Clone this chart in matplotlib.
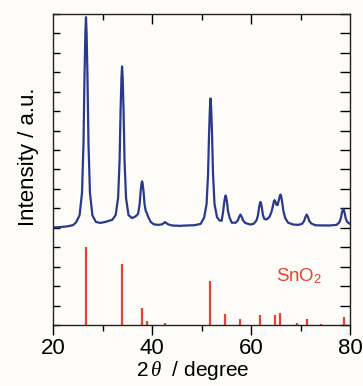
import matplotlib
matplotlib.use('Agg')
import matplotlib.pyplot as plt

plt.rcParams['font.family'] = ['Liberation Sans', 'DejaVu Sans']
plt.rcParams['mathtext.fontset'] = 'custom'
plt.rcParams['mathtext.rm'] = 'Liberation Sans'
plt.rcParams['mathtext.it'] = 'Liberation Serif:italic'

two_theta = [20.0, 21.0, 22.0, 23.0, 24.0, 24.6, 25.3, 25.8, 26.1, 26.3, 26.48, 26.6,
             26.72, 26.9, 27.1, 27.4, 27.9, 28.6, 29.5, 30.5, 31.9, 32.6, 33.1, 33.4,
             33.6, 33.78, 33.9, 34.02, 34.2, 34.4, 34.7, 35.2, 35.9, 36.6, 37.15, 37.45,
             37.65, 37.83, 37.95, 38.07, 38.25, 38.45, 38.7, 38.9, 39.2, 39.7, 40.3, 41.2,
             42.0, 42.6, 43.2, 44.0, 45.5, 47.0, 48.5, 49.8, 50.5, 51.0, 51.3, 51.5,
             51.68, 51.8, 51.92, 52.1, 52.3, 52.6, 53.1, 53.6, 54.05, 54.35, 54.55, 54.73,
             54.85, 54.97, 55.15, 55.35, 55.65, 56.1, 56.9, 57.35, 57.55, 57.85, 58.15, 58.35,
             58.8, 59.8, 60.5, 61.1, 61.4, 61.6, 61.78, 61.9, 62.02, 62.2, 62.4, 62.7,
             63.15, 63.7, 64.1, 64.4, 64.62, 64.75, 64.9, 65.15, 65.35, 65.6, 65.82, 65.95,
             66.08, 66.3, 66.55, 66.9, 67.5, 68.5, 69.5, 70.3, 70.75, 70.95, 71.25, 71.55,
             71.75, 72.2, 73.0, 74.5, 76.0, 77.3, 77.85, 78.15, 78.35, 78.53, 78.65, 78.77,
             78.95, 79.15, 79.45, 80.0]
intensity = [5.02, 5.03, 5.05, 5.08, 5.14, 5.28, 5.64, 6.81, 9.38, 12.8, 15.05, 15.83,
             15.05, 12.8, 9.38, 6.81, 5.64, 5.3, 5.25, 5.3, 5.41, 5.65, 6.54, 8.47,
             11.05, 12.74, 13.3, 12.74, 11.05, 8.47, 6.54, 5.65, 5.5, 5.58, 5.72, 6.2,
             6.84, 7.26, 7.39, 7.26, 6.84, 6.2, 5.85, 5.77, 5.55, 5.3, 5.18, 5.15,
             5.18, 5.29, 5.18, 5.12, 5.1, 5.12, 5.13, 5.2, 5.52, 6.23, 7.78, 9.84,
             11.2, 11.65, 11.2, 9.84, 7.78, 6.23, 5.55, 5.38, 5.36, 5.84, 6.28, 6.56,
             6.66, 6.56, 6.28, 5.84, 5.52, 5.26, 5.26, 5.39, 5.54, 5.68, 5.54, 5.39,
             5.25, 5.17, 5.2, 5.38, 5.65, 6.01, 6.25, 6.33, 6.25, 6.01, 5.65, 5.45,
             5.43, 5.55, 5.8, 6.1, 6.36, 6.42, 6.35, 6.18, 6.17, 6.4, 6.65, 6.71,
             6.64, 6.3, 5.85, 5.5, 5.26, 5.17, 5.15, 5.2, 5.36, 5.53, 5.68, 5.53,
             5.36, 5.22, 5.13, 5.12, 5.12, 5.15, 5.28, 5.48, 5.74, 5.91, 5.97, 5.91,
             5.74, 5.48, 5.3, 5.2]

# SnO2 reference lines
ref_pos = [26.6, 33.9, 37.95, 38.95, 42.6, 51.75, 54.8, 57.85, 61.9, 64.75, 65.95,
           69.3, 71.3, 74.1, 78.7]
ref_int = [4.02, 3.13, 0.89, 0.2, 0.09, 2.26, 0.58, 0.29, 0.5, 0.53, 0.64,
           0.08, 0.29, 0.07, 0.41]

blue = '#293a8c'
red = '#e8432f'
bg = '#fdfcf9'

fig = plt.figure(figsize=(3.63, 3.86), dpi=100, facecolor=bg)
ax = fig.add_axes([0.147, 0.158, 0.817, 0.806], facecolor=bg)

ax.plot(two_theta, intensity, color=blue, lw=1.6, solid_joinstyle='round')
ax.vlines(ref_pos, 0, ref_int, color=red, lw=1.6)
ax.text(65.0, 2.5, 'SnO$_2$', color=red, fontsize=13.5, va='center', ha='left')

ax.set_xlim(20, 80)
ax.set_ylim(0, 16)
ax.set_xticks([20, 40, 60, 80])
ax.set_xticks([30, 50, 70], minor=True)
ax.set_yticks(range(0, 17))
ax.tick_params(axis='x', which='major', direction='out', length=7, width=1,
               labelsize=16, pad=2)
ax.tick_params(axis='x', which='minor', direction='out', length=4, width=1)
ax.tick_params(axis='y', which='both', direction='in', length=5, width=1,
               left=True, right=False, labelleft=False)

top = ax.secondary_xaxis('top')
top.set_xticks([40, 60])
top.set_xticks([30, 50, 70], minor=True)
top.tick_params(which='major', direction='in', length=7.5, width=1, labeltop=False)
top.tick_params(which='minor', direction='in', length=4, width=1)
top.spines['top'].set_visible(False)

right = ax.secondary_yaxis('right')
right.set_yticks(range(0, 17))
right.tick_params(direction='in', length=7, width=1, labelright=False)
right.spines['right'].set_visible(False)

for s in ax.spines.values():
    s.set_linewidth(1.0)
    s.set_color('#222222')

ax.set_xlabel(r'2$\,\theta$  / degree', fontsize=15)
ax.xaxis.set_label_coords(0.47, -0.108)
ax.set_ylabel('Intensity / a.u.', fontsize=16)
ax.yaxis.set_label_coords(-0.05, 0.54)

fig.savefig('out.png', dpi=100, facecolor=bg)
